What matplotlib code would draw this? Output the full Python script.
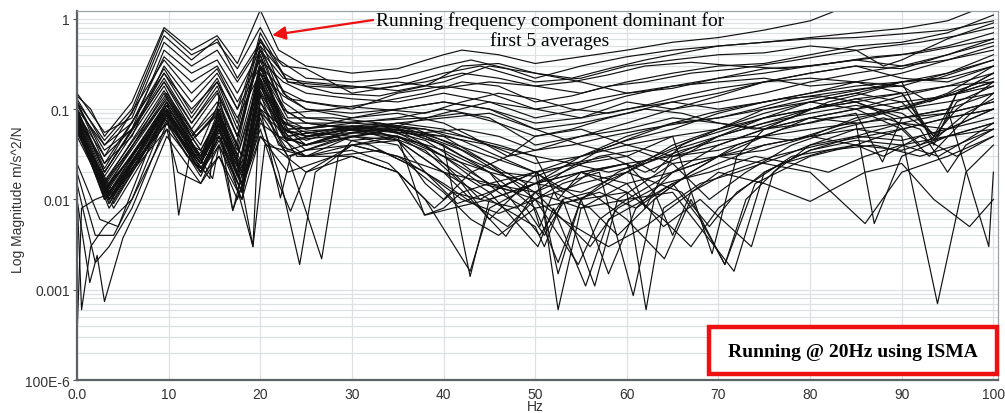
import matplotlib.pyplot as plt
from matplotlib.patches import Rectangle
from matplotlib.ticker import FixedLocator, LogLocator, NullFormatter

# Curvas: cada curva es una lista de (Hz, magnitud)
upper_curves = [
    [(0, .14), (1.5, .1), (3, .05), (6, .12), (9.5, .8), (12.5, .45), (15.3, .65), (17.5, .32), (20, 1.25),
     (22, .45), (25, .3), (30, .25), (35, .28), (40, .4), (42, .45), (46, .4), (50, .32), (55, .38), (60, .45),
     (65, .55), (70, .62), (75, .75), (80, .95), (83, 1.25)],
    [(0, .12), (3, .045), (6, .1), (9.5, .75), (12.5, .4), (15.3, .55), (17.5, .28), (20, .8), (22, .35),
     (25, .22), (30, .2), (35, .22), (40, .3), (43, .35), (47, .28), (50, .22), (55, .3), (60, .38), (65, .45),
     (70, .5), (75, .55), (80, .62), (85, .7), (90, .78), (95, .95), (98, 1.25)],
    [(0, .1), (3, .04), (6, .09), (9.5, .65), (12.5, .35), (15.3, .6), (17.5, .22), (20, .55), (22.5, .3),
     (25, .28), (30, .15), (35, .18), (40, .25), (44, .3), (50, .2), (55, .22), (60, .3), (65, .35), (70, .4),
     (75, .42), (80, .5), (85, .45), (88, .3), (90, .35), (95, .6), (100, .9)],
    [(0, .15), (3, .055), (6, .08), (9.5, .55), (12.5, .3), (15.3, .45), (17.5, .2), (20, .5), (22.5, .25),
     (25, .18), (30, .17), (35, .2), (40, .17), (45, .2), (50, .18), (55, .15), (60, .2), (65, .25), (70, .3),
     (75, .32), (80, .4), (85, .5), (90, .55), (95, .7), (100, 1.1)],
    [(0, .09), (3, .03), (6, .06), (9.5, .45), (12.5, .25), (15.3, .35), (17.5, .15), (20, .45), (22.5, .22),
     (25, .2), (30, .18), (35, .16), (40, .2), (45, .3), (50, .25), (55, .2), (60, .15), (65, .17), (70, .22),
     (75, .28), (80, .3), (85, .35), (90, .3), (95, .4), (100, .55)],
    [(0, .13), (3, .04), (6, .07), (9.5, .38), (12.5, .2), (15.3, .3), (17.5, .12), (20, .35), (22.5, .2),
     (25, .15), (30, .13), (35, .12), (40, .15), (45, .12), (50, .08), (55, .1), (60, .14), (65, .18), (70, .2),
     (75, .22), (80, .18), (85, .2), (90, .25), (95, .35), (100, .45)],
    [(0, .08), (3, .025), (6, .05), (9.5, .3), (12.5, .12), (15.3, .25), (17.5, .1), (20, .3), (22.5, .16),
     (25, .12), (30, .1), (35, .15), (40, .18), (45, .15), (50, .1), (55, .08), (60, .12), (65, .1), (70, .14),
     (75, .2), (80, .25), (85, .3), (90, .22), (95, .2), (100, .3)],
    [(0, .11), (3, .035), (6, .06), (9.5, .25), (12.5, .1), (15.3, .2), (17.5, .08), (20, .25), (22.5, .14),
     (25, .1), (30, .08), (35, .1), (40, .12), (45, .1), (50, .06), (55, .07), (60, .09), (65, .12), (70, .1),
     (75, .12), (80, .15), (85, .2), (90, .15), (93.5, .05), (96, .15), (100, .25)],
]

mid_upper_curves = [
    [(0, .1), (3, .02), (9.5, .2), (12.5, .06), (15.3, .15), (17.5, .05), (20, .5), (22.5, .12), (25, .08),
     (30, .07), (35, .08), (40, .1), (45, .08), (50, .04), (55, .05), (60, .07), (65, .1), (70, .12), (75, .15),
     (80, .2), (85, .25), (90, .3), (95, .35), (100, .5)],
    [(0, .09), (3, .018), (9.5, .18), (12.5, .05), (15.3, .12), (17.5, .04), (20, .45), (22.5, .1), (25, .07),
     (30, .06), (35, .07), (40, .06), (45, .04), (50, .025), (55, .03), (60, .045), (65, .06), (70, .09),
     (75, .12), (80, .15), (85, .18), (90, .2), (93.5, .04), (96, .15), (100, .25)],
    [(0, .12), (3, .025), (9.5, .25), (12.5, .08), (15.3, .2), (17.5, .06), (20, .6), (22.5, .15), (25, .1),
     (30, .09), (35, .1), (40, .12), (45, .1), (50, .07), (55, .08), (60, .1), (65, .12), (70, .15), (75, .2),
     (80, .25), (85, .3), (90, .28), (95, .4), (100, .6)],
    [(0, .085), (3, .015), (9.5, .16), (12.5, .05), (15.3, .1), (17.5, .03), (20, .25), (22.5, .08), (25, .06),
     (30, .08), (35, .09), (40, .07), (43, .05), (47, .03), (50, .035), (55, .05), (60, .06), (65, .08),
     (70, .07), (75, .06), (80, .08), (85, .1), (90, .06), (93, .03), (97, .08), (100, .15)],
    [(0, .095), (3, .02), (9.5, .22), (12.5, .07), (15.3, .18), (17.5, .05), (20, .4), (22.5, .1), (25, .07),
     (30, .06), (35, .07), (40, .08), (45, .09), (50, .06), (55, .04), (60, .03), (63, .02), (66, .04),
     (70, .06), (75, .1), (80, .13), (85, .16), (90, .2), (95, .22), (100, .3)],
    [(0, .07), (3, .012), (9.5, .15), (12.5, .045), (15.3, .09), (17.5, .03), (20, .2), (22.5, .06), (25, .05),
     (30, .055), (35, .065), (40, .09), (45, .12), (50, .1), (55, .12), (60, .15), (65, .18), (70, .22),
     (75, .25), (80, .3), (85, .35), (90, .4), (95, .5), (100, .7)],
    [(0, .1), (3, .022), (9.5, .28), (12.5, .09), (15.3, .22), (17.5, .07), (20, .7), (23, .2), (28, .18),
     (33, .17), (38, .2), (42, .25), (46, .22), (50, .18), (54, .2), (58, .24), (62, .3), (67, .33), (72, .3),
     (77, .28), (82, .32), (87, .38), (92, .42), (96, .5), (100, .6)],
    [(0, .12), (3, .03), (9.5, .35), (12.5, .15), (15.3, .28), (17.5, .1), (20, .6), (23, .2), (28, .15),
     (33, .14), (38, .18), (42, .3), (46, .32), (50, .25), (54, .22), (58, .28), (62, .35), (66, .42), (70, .5),
     (75, .55), (80, .6), (85, .62), (90, .68), (95, .75), (100, .95)],
    [(0, .1), (3, .02), (9.5, .2), (12.5, .07), (15.3, .16), (17.5, .05), (20, .45), (23, .13), (28, .11),
     (33, .1), (38, .09), (42, .12), (46, .15), (50, .13), (54, .1), (58, .09), (62, .11), (66, .14), (70, .17),
     (75, .2), (80, .22), (85, .2), (90, .18), (95, .25), (100, .4)],
    [(0, .09), (3, .016), (9.8, .15), (13, .05), (15.5, .1), (18, .03), (20, .3), (23, .09), (28, .1),
     (33, .12), (38, .15), (42, .2), (46, .18), (50, .12), (54, .14), (58, .18), (62, .2), (67, .25), (72, .28),
     (77, .33), (82, .4), (87, .48), (92, .55), (96, .65), (100, .8)],
]

middle_curves = [
    [(0, .07), (3.5, .009), (9.8, .12), (11, .05), (14.5, .017), (15.5, .14), (17, .03), (20, .4), (22, .08),
     (25, .05), (30, .06), (35, .055), (40, .03), (44, .015), (48, .012), (50.3, .02), (52.5, .0006), (55, .008),
     (60, .015), (65, .02), (70, .03), (75, .05), (80, .08), (85, .1), (90, .12), (93.5, .05), (96, .1), (100, .2)],
    [(0, .08), (3, .012), (9.8, .1), (11.1, .0067), (12.5, .04), (14.5, .03), (15.5, .08), (17.5, .02), (20, .3),
     (22.5, .06), (25, .045), (30, .065), (35, .06), (40, .04), (42.9, .0014), (45, .01), (50, .015), (55, .012),
     (60, .02), (65, .035), (70, .05), (75, .07), (80, .1), (85, .13), (90, .1), (95, .15), (100, .3)],
    [(0, .065), (4, .01), (9.8, .09), (13.5, .025), (15.5, .07), (17, .0075), (18.5, .03), (20, .2), (22, .05),
     (25, .04), (30, .055), (35, .05), (40, .025), (45, .012), (50.3, .003), (52, .008), (55.5, .0011), (58, .006),
     (62, .01), (65, .015), (70, .025), (75, .04), (80, .05), (85, .06), (90, .07), (95, .06), (100, .1)],
    [(0, .075), (3, .01), (9.8, .11), (13.5, .03), (15.5, .1), (17.5, .025), (19.2, .003), (20, .15), (22, .04),
     (25, .03), (30, .05), (35, .06), (40, .05), (45, .025), (50, .01), (53, .015), (57, .02), (60.7, .00086),
     (63, .01), (67, .02), (70, .03), (75, .035), (80, .05), (85, .08), (90, .1), (95, .12), (100, .15)],
    [(0, .06), (3.5, .008), (9.8, .08), (13.5, .02), (15.5, .06), (18, .015), (20, .1), (22.2, .0104), (23.3, .03),
     (25, .035), (30, .05), (35, .045), (40, .02), (43, .01), (46.8, .0039), (50, .012), (55, .02), (60, .012),
     (62.1, .0006), (64, .008), (68, .015), (72, .02), (77, .03), (80, .04), (85, .05), (90, .045), (95, .06),
     (100, .08)],
    [(0, .07), (3, .015), (9.8, .13), (13.5, .04), (15.5, .12), (18, .03), (20, .35), (22.5, .07), (25, .06),
     (30, .07), (35, .065), (40, .045), (45, .03), (50, .02), (55, .03), (60, .04), (65, .05), (69.3, .0025),
     (72, .03), (75, .06), (80, .1), (85, .12), (90, .15), (95, .18), (100, .2)],
    [(0, .055), (3.5, .012), (9.8, .07), (13.5, .018), (15.5, .05), (18, .012), (20, .08), (22, .02),
     (24.3, .0019), (26, .02), (30, .04), (35, .05), (40, .035), (45, .02), (50.5, .004), (53, .01), (56, .012),
     (60, .006), (64.1, .0022), (67, .01), (70.7, .0019), (74, .015), (80, .03), (85, .04), (90, .035), (95, .05),
     (100, .06)],
    [(0, .065), (4, .011), (9.8, .1), (13.5, .022), (15.5, .055), (18.5, .02), (20, .12), (23, .03),
     (26.7, .0022), (28.5, .03), (30, .045), (35, .05), (40, .03), (45, .015), (50, .01), (54.7, .0019), (57, .006),
     (60, .01), (65, .012), (71.7, .0016), (75, .02), (80, .035), (85, .05), (90, .07), (95, .09), (100, .12)],
    [(0, .08), (3, .013), (9.8, .09), (13.5, .03), (15.5, .065), (17.5, .018), (20, .25), (22.5, .06), (25, .05),
     (30, .06), (35, .045), (38, .02), (41.5, .009), (45, .012), (50, .02), (55, .01), (58, .0015), (61, .008),
     (65, .02), (70, .04), (75, .06), (80, .07), (85, .09), (87.9, .026), (90, .08), (95, .1), (100, .15)],
    [(0, .07), (3.5, .01), (9.8, .11), (12.5, .04), (14.8, .017), (15.5, .04), (18, .01), (20, .18), (22.5, .05),
     (25, .04), (30, .055), (35, .06), (40, .04), (45, .02), (50, .015), (55, .02), (60, .015), (64, .005),
     (68, .01), (73.6, .003), (76, .02), (80, .04), (85, .06), (90, .05), (93.9, .0007), (97, .02), (100, .04)],
    [(0, .075), (3, .014), (9.8, .14), (13, .05), (15.5, .09), (17.5, .035), (20, .3), (22.5, .07), (25, .055),
     (30, .05), (35, .04), (38, .015), (40, .01), (43, .02), (47, .03), (50, .05), (55, .06), (60, .04), (65, .03),
     (70, .04), (75, .06), (80, .08), (85, .07), (87, .0054), (90, .03), (95, .05), (100, .07)],
    [(0, .06), (4, .009), (9.8, .085), (13.5, .02), (15.5, .05), (18, .015), (20, .22), (22.5, .05), (25, .04),
     (30, .06), (35, .05), (37.9, .0067), (40, .008), (42, .012), (45, .015), (50, .02), (55, .025), (60, .03),
     (65, .05), (70, .06), (75, .08), (80, .1), (85, .12), (90, .08), (95, .1), (99.5, .003), (100, .02)],
    [(0, .085), (3, .011), (9.8, .12), (13.5, .035), (15.5, .08), (18, .02), (20, .2), (22.5, .06), (25, .05),
     (30, .065), (35, .055), (40, .05), (45, .04), (50, .03), (52.5, .01), (55, .02), (60, .025), (62, .008),
     (65, .03), (70, .05), (75, .08), (80, .12), (85, .15), (90, .2), (95, .25), (100, .35)],
    [(0, .05), (3.5, .01), (9.8, .06), (11, .02), (13.5, .015), (15.5, .04), (17, .0076), (18.5, .02), (20, .06),
     (22, .015), (23.3, .0074), (25, .02), (30, .04), (35, .03), (40, .015), (44, .008), (47, .005), (50, .01),
     (55, .015), (60, .02), (66, .012), (69, .005), (72, .012), (78, .03), (85, .04), (88, .03), (92, .05),
     (96, .03), (100, .05)],
    [(0, .075), (3.5, .011), (9.8, .1), (13.5, .028), (15.5, .075), (18, .02), (20, .15), (23, .05), (28, .06),
     (33, .07), (38, .05), (42, .03), (46, .02), (50, .018), (54, .025), (58, .03), (62, .02), (66, .03),
     (70, .05), (75, .07), (80, .09), (85, .11), (90, .09), (94, .05), (97, .09), (100, .13)],
    [(0, .065), (3, .01), (9.8, .095), (13.5, .025), (15.5, .06), (18, .018), (20, .14), (23, .045), (28, .055),
     (33, .065), (37, .06), (41, .04), (45, .025), (49, .015), (50.5, .005), (52, .012), (56, .008), (59, .004),
     (63, .01), (67, .02), (72, .04), (77, .06), (82, .08), (87, .09), (92, .12), (96, .15), (100, .2)],
    [(0, .06), (3.5, .009), (9.8, .085), (13.5, .022), (15.5, .05), (18, .014), (20, .1), (23, .035), (28, .05),
     (33, .06), (38, .045), (42, .025), (46, .012), (49, .008), (51, .004), (53, .009), (57, .012), (61, .008),
     (65, .015), (68, .006), (70.7, .0019), (73, .01), (77, .025), (82, .035), (87, .04), (92, .03), (96, .04),
     (100, .06)],
    [(0, .07), (3.5, .012), (9.8, .12), (13.5, .03), (15.5, .09), (18, .022), (20, .2), (23, .06), (28, .065),
     (33, .06), (38, .055), (42, .06), (46, .05), (50, .035), (54, .04), (58, .05), (62, .06), (66, .07),
     (70, .08), (74, .1), (78, .13), (82, .15), (86, .17), (90, .18), (93, .12), (96, .16), (100, .22)],
    [(0, .055), (4, .008), (9.8, .075), (13.5, .02), (15.5, .045), (18, .012), (20, .09), (23, .03), (28, .045),
     (33, .055), (38, .04), (41, .02), (44, .01), (47, .015), (50, .02), (53, .012), (56, .02), (60, .025),
     (63, .012), (65, .004), (67, .012), (71, .02), (76, .03), (81, .04), (86, .05), (90, .06), (95, .08),
     (100, .1)],
    [(0, .08), (3, .012), (9.8, .11), (13.5, .03), (15.5, .07), (18, .02), (20, .25), (23, .07), (28, .07),
     (33, .075), (38, .08), (42, .09), (46, .07), (50, .05), (54, .06), (58, .08), (62, .1), (66, .09), (70, .07),
     (74, .06), (78, .08), (82, .12), (86, .15), (90, .2), (94, .22), (100, .35)],
    [(0, .07), (3.5, .01), (9.8, .09), (13.5, .025), (15.5, .06), (18, .015), (20, .18), (23, .05), (28, .06),
     (33, .055), (38, .035), (42, .015), (45, .006), (48, .012), (50, .015), (53, .02), (57, .03), (61, .035),
     (65, .025), (69, .01), (73, .02), (78, .04), (83, .06), (88, .08), (92, .06), (95, .02), (97, .04), (100, .06)],
    [(0, .085), (3, .013), (9.8, .13), (13.5, .035), (15.5, .085), (18, .025), (20, .28), (23, .08), (28, .08),
     (33, .07), (38, .06), (42, .045), (46, .03), (50, .02), (52.5, .0015), (55, .01), (59, .02), (63, .03),
     (67, .045), (71, .06), (75, .08), (80, .1), (85, .13), (90, .15), (93.5, .045), (96, .12), (100, .18)],
    [(0, .065), (3.5, .01), (9.8, .1), (13.5, .025), (15.5, .065), (18, .018), (20, .16), (23, .045), (28, .05),
     (32, .04), (36, .025), (40, .012), (43, .006), (46, .004), (50, .008), (55, .01), (60, .012), (64, .006),
     (67, .003), (70, .008), (75, .02), (80, .035), (85, .045), (90, .04), (94, .03), (97, .045), (100, .07)],
    [(0, .075), (3.5, .01), (9.8, .11), (13.5, .03), (15.5, .08), (18, .02), (20, .2), (23, .055), (28, .06),
     (33, .06), (38, .05), (42, .035), (46, .02), (50, .012), (53, .02), (57, .035), (61, .05), (65, .07),
     (69, .09), (73, .11), (77, .13), (81, .14), (85, .12), (89, .08), (92, .04), (95, .06), (100, .1)],
    [(0, .06), (4, .012), (9.8, .07), (12, .03), (14, .02), (15.5, .03), (17.5, .01), (20, .05), (23, .02),
     (28, .03), (33, .035), (38, .02), (42, .01), (46, .007), (50, .01), (53, .006), (56, .003), (59, .008),
     (64, .015), (69, .02), (74, .03), (78, .025), (82, .02), (86, .03), (90, .04), (95, .05), (100, .07)],
    [(0, .07), (3.5, .011), (9.8, .1), (13.5, .027), (15.5, .07), (18, .02), (20, .22), (23, .06), (28, .065),
     (33, .065), (38, .06), (42, .05), (46, .04), (50, .03), (54, .025), (58, .02), (62, .025), (66, .035),
     (70, .045), (74, .05), (78, .045), (82, .06), (86, .08), (90, .1), (95, .14), (100, .18)],
]

low_curves = [
    [(0, .0003), (0.5, .008), (2, .01), (4, .012), (6, .02), (9.5, .08), (13, .03), (15.5, .05), (18, .02),
     (20, .1), (25, .04), (30, .05), (35, .06), (40, .03), (45, .02), (50, .008), (52.5, .002), (55, .01),
     (60, .02), (65, .04), (70, .06), (75, .09), (80, .12), (85, .15), (90, .12), (95, .14), (100, .2)],
    [(0, .012), (0.5, .0006), (1.5, .003), (3, .005), (6, .01), (9.8, .06), (13.5, .02), (15.5, .04), (18, .012),
     (20, .07), (25, .03), (30, .04), (35, .03), (40, .02), (45, .015), (50, .012), (55, .008), (60, .01),
     (65, .02), (70, .03), (75, .04), (80, .05), (85, .04), (90, .06), (95, .08), (100, .1)],
    [(0, .01), (1.4, .0012), (2.2, .0024), (3, .00074), (5, .0037), (7, .01), (9.8, .05), (13.5, .015),
     (15.5, .03), (18, .01), (20, .05), (25, .02), (30, .03), (35, .02), (38, .0067), (41, .008), (45, .01),
     (50, .015), (55, .02), (60, .025), (65, .03), (70, .035), (75, .05), (80, .06), (85, .07), (90, .08),
     (95, .09), (100, .12)],
    [(0, .015), (2, .002), (3.5, .003), (6, .008), (9.8, .07), (13.5, .025), (15.5, .06), (18, .015), (20, .09),
     (25, .035), (30, .04), (35, .045), (40, .02), (45, .01), (50, .005), (51, .003), (53, .01), (56.5, .0011),
     (59, .01), (65, .025), (70, .03), (75, .025), (80, .02), (86, .0054), (90, .02), (95, .03), (100, .05)],
    [(0, .02), (2, .004), (4, .004), (6, .01), (9.8, .09), (13.5, .02), (15.5, .05), (17, .02), (19.2, .003),
     (20.5, .04), (25, .03), (30, .035), (34, .025), (38, .01), (42.9, .0016), (45, .008), (50, .015), (55, .03),
     (60, .05), (65, .07), (70, .08), (75, .1), (80, .12), (85, .1), (90, .14), (95, .18), (100, .25)],
    [(0, .025), (2.5, .006), (4.5, .005), (9.5, .1), (13.5, .025), (15.5, .07), (18, .02), (20, .12), (24, .03),
     (30, .03), (35, .02), (39, .008), (41, .012), (44, .01), (48, .008), (50, .012), (53, .006), (58, .003),
     (62, .005), (66, .01), (70, .02), (75, .015), (80, .0095), (86, .02), (90, .025), (93.5, .01), (97.4, .005),
     (100, .01)],
]

x_ticks = [0, 10, 20, 30, 40, 50, 60, 70, 80, 90, 100]
x_labels = ['0.0', '10', '20', '30', '40', '50', '60', '70', '80', '90', '100']
y_ticks = [1e-4, 1e-3, 1e-2, 1e-1, 1]
y_labels = ['100E-6', '0.001', '0.01', '0.1', '1']

tick_font = ['Liberation Sans Narrow', 'Liberation Sans', 'DejaVu Sans']
serif_font = ['Liberation Serif', 'DejaVu Serif']

fig = plt.figure(figsize=(10.05, 4.14), dpi=100)
ax = fig.add_axes([0.0766, 0.0797, 0.9164, 0.8913])

for grupo in (upper_curves, mid_upper_curves, middle_curves, low_curves):
    for curva in grupo:
        hz = [p[0] for p in curva]
        mag = [p[1] for p in curva]
        ax.plot(hz, mag, color='#111111', lw=0.85)

ax.set_yscale('log')
ax.set_xlim(0, 100.5)
ax.set_ylim(1e-4, 1.22)

ax.xaxis.set_major_locator(FixedLocator(x_ticks))
ax.set_xticklabels(x_labels, family=tick_font, fontsize=10, color='#333333')
ax.yaxis.set_major_locator(FixedLocator(y_ticks))
ax.set_yticklabels(y_labels, family=tick_font, fontsize=10, color='#333333')
ax.yaxis.set_minor_locator(LogLocator(base=10, subs=range(2, 10)))
ax.yaxis.set_minor_formatter(NullFormatter())
ax.tick_params(axis='both', which='both', length=0)
ax.tick_params(axis='x', pad=5)
ax.tick_params(axis='y', which='major', length=3, color='#555555', pad=2)

ax.grid(True, axis='x', which='major', color='#dde1e3', lw=0.9)
ax.grid(True, axis='y', which='both', color='#dde1e3', lw=0.9)
ax.set_axisbelow(True)

for lado in ('left', 'bottom'):
    ax.spines[lado].set_color('#5a6366')
    ax.spines[lado].set_linewidth(1.6)
for lado in ('top', 'right'):
    ax.spines[lado].set_color('#9aa2a5')
    ax.spines[lado].set_linewidth(0.9)

fig.text(535 / 1005, 1 - 407 / 414, 'Hz', ha='center', va='center',
         family=tick_font, fontsize=10, color='#333333')
fig.text(18 / 1005, 1 - 200 / 414, 'Log Magnitude m/s^2/N', rotation=90, ha='center', va='center',
         family=tick_font, fontsize=10, color='#333333')

# Anotacion con flecha roja
ax.annotate('Running frequency component dominant for\nfirst 5 averages',
            xy=(21.3, 0.66), xytext=(0.5136, 0.9485), textcoords='axes fraction',
            ha='center', va='center', family=serif_font, fontsize=14,
            linespacing=1.1,
            arrowprops=dict(arrowstyle='-|>', color='#ee1111', lw=1.6,
                            mutation_scale=20, shrinkA=0, shrinkB=0,
                            relpos=(0.0, 0.78)))

# Recuadro rojo con texto
ax.add_patch(Rectangle((0.686, 0.016), 0.313, 0.1276, transform=ax.transAxes,
                       fc='white', ec='#ee1111', lw=3.2, clip_on=False, zorder=5))
ax.text(0.8426, 0.0786, 'Running @ 20Hz using ISMA', transform=ax.transAxes,
        ha='center', va='center', family=serif_font, fontsize=14, fontweight='bold', zorder=6)

fig.savefig('out.png', dpi=100)
